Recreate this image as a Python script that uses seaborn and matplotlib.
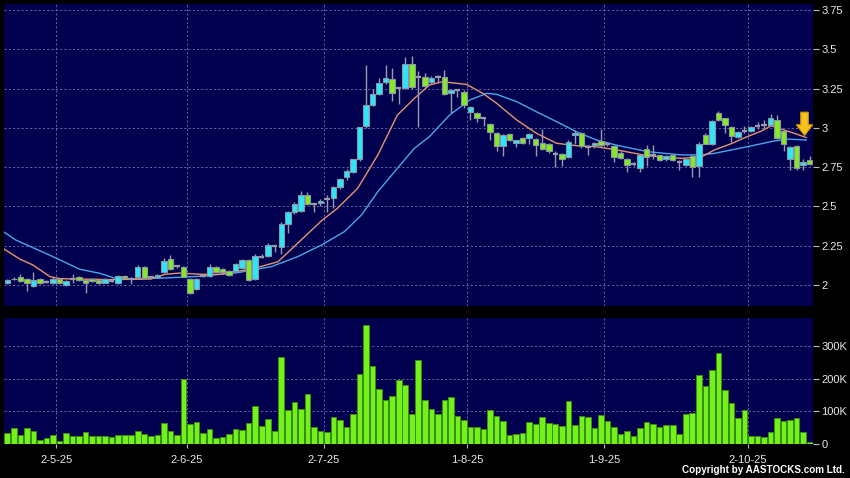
import numpy as np
import pandas as pd
import matplotlib
matplotlib.use("Agg")
import matplotlib.pyplot as plt
import seaborn as sns
from matplotlib.patches import FancyArrow

# ---------------- data ----------------
opens = [2.01, 2.035, 2.05, 2.04, 1.995, 2.04, 2.02, 2.01, 2.04, 2.00,
         2.035, 2.05, 2.03, 2.04, 2.03, 2.015, 2.028, 2.012, 2.06, 2.035,
         2.05, 2.117, 2.05, 2.05, 2.083, 2.165, 2.12, 2.115, 2.04, 1.975,
         2.055, 2.055, 2.115, 2.10, 2.09, 2.09, 2.11, 2.16, 2.04, 2.18,
         2.187, 2.246, 2.242, 2.39, 2.467, 2.47, 2.57, 2.515, 2.525, 2.55,
         2.556, 2.625, 2.69, 2.72, 2.80, 3.01, 3.144, 3.214, 3.29, 3.31,
         3.255, 3.255, 3.41, 3.324, 3.324, 3.29, 3.324, 3.324, 3.222, 3.24,
         3.23, 3.10, 3.097, 3.06, 3.023, 2.97, 2.885, 2.959, 2.905, 2.938,
         2.934, 2.93, 2.902, 2.90, 2.834, 2.832, 2.815, 2.955, 2.97, 2.88,
         2.888, 2.917, 2.90, 2.885, 2.84, 2.80, 2.77, 2.745, 2.864, 2.827,
         2.827, 2.799, 2.827, 2.78, 2.766, 2.818, 2.76, 2.958, 2.90, 3.094,
         3.06, 3.008, 2.942, 2.98, 2.98, 3.012, 3.02, 3.02, 3.05, 2.98,
         2.80, 2.885, 2.766, 2.795]
highs = [2.04, 2.05, 2.07, 2.045, 2.08, 2.045, 2.03, 2.05, 2.045, 2.03,
         2.07, 2.055, 2.035, 2.045, 2.035, 2.045, 2.04, 2.065, 2.065, 2.05,
         2.125, 2.12, 2.06, 2.07, 2.17, 2.19, 2.125, 2.12, 2.045, 2.045,
         2.07, 2.135, 2.12, 2.105, 2.095, 2.14, 2.165, 2.165, 2.20, 2.20,
         2.27, 2.25, 2.40, 2.47, 2.53, 2.60, 2.59, 2.52, 2.545, 2.57,
         2.63, 2.68, 2.74, 2.80, 3.004, 3.40, 3.25, 3.32, 3.40, 3.38,
         3.26, 3.45, 3.46, 3.36, 3.35, 3.33, 3.34, 3.37, 3.25, 3.245,
         3.24, 3.14, 3.10, 3.065, 3.03, 2.975, 2.96, 2.965, 2.925, 2.945,
         2.965, 2.935, 2.99, 2.905, 2.85, 2.84, 2.92, 2.985, 2.975, 2.89,
         2.91, 2.99, 2.91, 2.89, 2.85, 2.81, 2.78, 2.83, 2.89, 2.89,
         2.83, 2.83, 2.835, 2.795, 2.80, 2.83, 2.91, 2.97, 3.05, 3.11,
         3.065, 3.01, 2.98, 3.01, 3.01, 3.04, 3.05, 3.09, 3.08, 2.985,
         2.885, 2.89, 2.80, 2.82]
lows = [2.005, 2.03, 2.02, 1.96, 1.99, 2.005, 2.01, 2.005, 2.005, 1.995,
        2.01, 2.025, 1.95, 2.02, 2.005, 2.01, 2.02, 2.005, 2.04, 2.005,
        2.045, 2.04, 2.04, 2.045, 2.075, 2.095, 2.11, 2.05, 1.945, 1.97,
        2.05, 2.05, 2.08, 2.08, 2.06, 2.085, 2.105, 2.025, 2.03, 2.17,
        2.18, 2.21, 2.20, 2.33, 2.45, 2.465, 2.51, 2.463, 2.505, 2.465,
        2.488, 2.61, 2.67, 2.71, 2.79, 3.00, 3.14, 3.21, 3.28, 3.17,
        3.15, 3.25, 3.25, 3.007, 3.26, 3.28, 3.29, 3.21, 3.093, 3.20,
        3.125, 3.05, 3.04, 3.01, 2.923, 2.85, 2.82, 2.915, 2.88, 2.895,
        2.90, 2.82, 2.86, 2.84, 2.753, 2.76, 2.81, 2.90, 2.87, 2.83,
        2.87, 2.88, 2.885, 2.78, 2.80, 2.72, 2.76, 2.72, 2.76, 2.80,
        2.79, 2.79, 2.79, 2.73, 2.76, 2.69, 2.69, 2.90, 2.89, 3.045,
        2.97, 2.91, 2.935, 2.97, 2.975, 2.99, 3.00, 3.015, 2.93, 2.85,
        2.73, 2.73, 2.73, 2.765]
closes = [2.03, 2.04, 2.025, 2.01, 2.03, 2.01, 2.02, 2.04, 2.01, 2.025,
          2.035, 2.03, 2.013, 2.025, 2.013, 2.04, 2.028, 2.06, 2.045, 2.035,
          2.117, 2.045, 2.05, 2.063, 2.153, 2.10, 2.12, 2.053, 1.95, 2.04,
          2.055, 2.115, 2.085, 2.085, 2.065, 2.135, 2.16, 2.03, 2.185, 2.18,
          2.253, 2.246, 2.39, 2.463, 2.514, 2.57, 2.515, 2.515, 2.535, 2.55,
          2.626, 2.676, 2.727, 2.80, 3.004, 3.144, 3.214, 3.284, 3.32, 3.22,
          3.255, 3.41, 3.258, 3.324, 3.27, 3.32, 3.324, 3.218, 3.24, 3.24,
          3.145, 3.13, 3.063, 3.06, 2.976, 2.885, 2.955, 2.923, 2.92, 2.902,
          2.96, 2.89, 2.868, 2.85, 2.834, 2.80, 2.908, 2.968, 2.885, 2.88,
          2.902, 2.888, 2.90, 2.817, 2.81, 2.766, 2.77, 2.826, 2.817, 2.827,
          2.795, 2.82, 2.795, 2.78, 2.799, 2.75, 2.90, 2.90, 3.044, 3.05,
          3.02, 2.95, 2.975, 2.98, 3.005, 3.012, 3.02, 3.06, 2.933, 2.90,
          2.88, 2.747, 2.783, 2.77]
volume_k = [34, 49, 29, 49, 40, 13, 17, 29, 10, 33,
            24, 24, 37, 23, 26, 23, 20, 29, 28, 28,
            39, 32, 23, 28, 63, 40, 27, 199, 60, 66,
            33, 46, 17, 21, 32, 45, 42, 64, 117, 55,
            77, 39, 267, 103, 129, 108, 154, 52, 39, 38,
            84, 72, 53, 91, 213, 364, 238, 169, 134, 148,
            196, 182, 91, 256, 134, 107, 92, 134, 143, 86,
            75, 53, 53, 46, 103, 87, 69, 29, 32, 35,
            68, 60, 82, 63, 61, 55, 131, 59, 85, 84,
            48, 90, 69, 53, 32, 41, 25, 49, 66, 61,
            52, 58, 58, 31, 91, 94, 210, 178, 227, 280,
            164, 126, 79, 105, 25, 25, 22, 38, 81, 70,
            72, 81, 36, 6]

# moving averages, read at sampled bar positions
ma_short_pos = [-0.5, 1.95, 3.94, 6.54, 8.1, 15.7, 21.9, 24.2, 26.45, 29.5,
                32.6, 37.9, 41.5, 44.5, 48.2, 50.6, 53.7, 56.8, 59.8, 62.4,
                64.7, 66.7, 70.4, 72.9, 75.0, 78.1, 81.1, 84.2, 87.2, 90.3,
                93.4, 98.1, 103.3, 106.4, 108.4, 111.0, 113.4, 115.6, 117.1,
                118.6, 120.6, 122.5]
ma_short_val = [2.229, 2.164, 2.127, 2.053, 2.04, 2.034, 2.038, 2.068, 2.076, 2.068,
                2.068, 2.106, 2.148, 2.265, 2.41, 2.488, 2.615, 2.828, 3.082, 3.188,
                3.273, 3.294, 3.277, 3.22, 3.157, 3.05, 2.966, 2.902, 2.887, 2.88,
                2.86, 2.823, 2.806, 2.815, 2.86, 2.90, 2.944, 2.98, 3.014,
                2.993, 2.966, 2.938]
ma_long_pos = [-0.5, 1.3, 6.5, 11.1, 14.2, 16.5, 18.8, 23.4, 29.5, 35.3,
               40.5, 44.5, 48.2, 51.7, 54.3, 56.8, 59.8, 62.4, 64.7, 67.8,
               70.9, 73.5, 75.0, 78.1, 81.1, 84.2, 87.2, 90.3, 93.4, 98.1,
               103.3, 106.4, 108.4, 113.4, 117.6, 119.6, 122.5]
ma_long_val = [2.337, 2.286, 2.19, 2.10, 2.074, 2.043, 2.038, 2.043, 2.055, 2.078,
               2.117, 2.18, 2.255, 2.34, 2.446, 2.594, 2.743, 2.87, 2.944, 3.082,
               3.178, 3.22, 3.214, 3.167, 3.103, 3.04, 2.976, 2.923, 2.89, 2.849,
               2.828, 2.828, 2.838, 2.88, 2.917, 2.929, 2.923]

month_first_bar = [8, 28, 49, 71, 92, 114]
month_labels = ["2-5-25", "2-6-25", "2-7-25", "1-8-25", "1-9-25", "2-10-25"]
price_ticks = [2, 2.25, 2.5, 2.75, 3, 3.25, 3.5, 3.75]
price_tick_labels = ["2", "2.25", "2.5", "2.75", "3", "3.25", "3.5", "3.75"]
vol_ticks = [0, 100, 200, 300]
vol_tick_labels = ["0", "100K", "200K", "300K"]
arrow_bar, arrow_top, arrow_tip = 122.2, 3.10, 2.952

# ---------------- styling ----------------
sns.set_theme(style="dark")
plt.rcParams['font.family'] = ['Liberation Sans', 'DejaVu Sans']

PANEL = '#00004f'
GRID = '#64649e'
UP = '#2ee6f6'
DOWN = '#84ea22'
EDGE = '#8a96a6'
WICK = '#9a9aaa'
TXT = '#e8e8e8'

df = pd.DataFrame({'bar': np.arange(len(closes)), 'open': opens, 'high': highs,
                   'low': lows, 'close': closes, 'vol': np.array(volume_k) * 1.0})

fig = plt.figure(figsize=(8.5, 4.78), dpi=100, facecolor='black')
ax_p = fig.add_axes([4/850, 1-306/478, 809/850, 302/478])
ax_v = fig.add_axes([4/850, 1-444/478, 809/850, 126/478])

n = len(df)
month_pos = [b - 0.5 for b in month_first_bar]

for ax in (ax_p, ax_v):
    ax.set_facecolor(PANEL)
    for s in ax.spines.values():
        s.set_visible(False)
    ax.set_xlim(-0.5, n - 0.5)
    ax.set_axisbelow(True)
    ax.grid(True, color=GRID, linestyle=(0, (2.2, 2.2)), linewidth=0.7)
    ax.yaxis.tick_right()
    ax.tick_params(axis='y', which='both', direction='out', length=4, width=0.8,
                   color='#bbbbbb', labelcolor=TXT, labelsize=8, pad=2,
                   left=False, right=True, labelleft=False, labelright=True)

# ---- price panel ----
ax_p.set_ylim(1.866, 3.789)
ax_p.set_yticks(price_ticks)
ax_p.set_yticklabels(price_tick_labels)
ax_p.set_xticks(month_pos)
ax_p.tick_params(axis='x', length=0, labelbottom=False)

sns.lineplot(x=ma_long_pos, y=ma_long_val, ax=ax_p, color='#4aa6ea', linewidth=1.0,
             legend=False, zorder=2, sort=False)
sns.lineplot(x=ma_short_pos, y=ma_short_val, ax=ax_p, color='#e8946c', linewidth=1.0,
             legend=False, zorder=2, sort=False)

ax_p.vlines(df['bar'], df['low'], df['high'], color=WICK, linewidth=1.0, zorder=3)
body_lo = np.minimum(df['open'], df['close'])
body_h = (df['close'] - df['open']).abs()
is_doji = body_h < 1e-9
is_up = (df['close'] > df['open']) & ~is_doji
is_dn = (df['close'] < df['open']) & ~is_doji
ax_p.bar(df['bar'][is_up], body_h[is_up], bottom=body_lo[is_up], width=0.84,
         color=UP, edgecolor=EDGE, linewidth=0.8, zorder=4)
ax_p.bar(df['bar'][is_dn], body_h[is_dn], bottom=body_lo[is_dn], width=0.84,
         color=DOWN, edgecolor=EDGE, linewidth=0.8, zorder=4)
ax_p.hlines(df['close'][is_doji], df['bar'][is_doji] - 0.42, df['bar'][is_doji] + 0.42,
            color=WICK, linewidth=1.6, zorder=4)

arr = FancyArrow(arrow_bar, arrow_top, 0, arrow_tip - arrow_top, width=1.15,
                 head_width=2.5, head_length=0.068, length_includes_head=True,
                 facecolor='#f7c21c', edgecolor='#d49a00', linewidth=0.8, zorder=6)
ax_p.add_patch(arr)
ax_p.set_xlabel('')
ax_p.set_ylabel('')

# ---- volume panel ----
sns.barplot(data=df, x='bar', y='vol', ax=ax_v, native_scale=True, color='#72f21a',
            saturation=1, width=0.86, edgecolor='#3c8c10', linewidth=0.7,
            errorbar=None, zorder=3)
ax_v.set_xlim(-0.5, n - 0.5)
ax_v.set_ylim(0, 386)
ax_v.set_yticks(vol_ticks)
ax_v.set_yticklabels(vol_tick_labels)
ax_v.set_xticks(month_pos)
ax_v.set_xticklabels(month_labels)
ax_v.tick_params(axis='x', direction='out', length=3, width=0.8, color='#bbbbbb',
                 labelcolor=TXT, labelsize=8, pad=5, bottom=True)
ax_v.set_xlabel('')
ax_v.set_ylabel('')
ax_v.grid(True, color=GRID, linestyle=(0, (2.2, 2.2)), linewidth=0.7)
ax_v.set_axisbelow(True)

fig.text(845/850, 1-470/478, 'Copyright by AASTOCKS.com Ltd.', ha='right', va='center',
         color='white', fontsize=7.1, fontweight='bold')

fig.savefig('out.png', dpi=100, facecolor='black')
